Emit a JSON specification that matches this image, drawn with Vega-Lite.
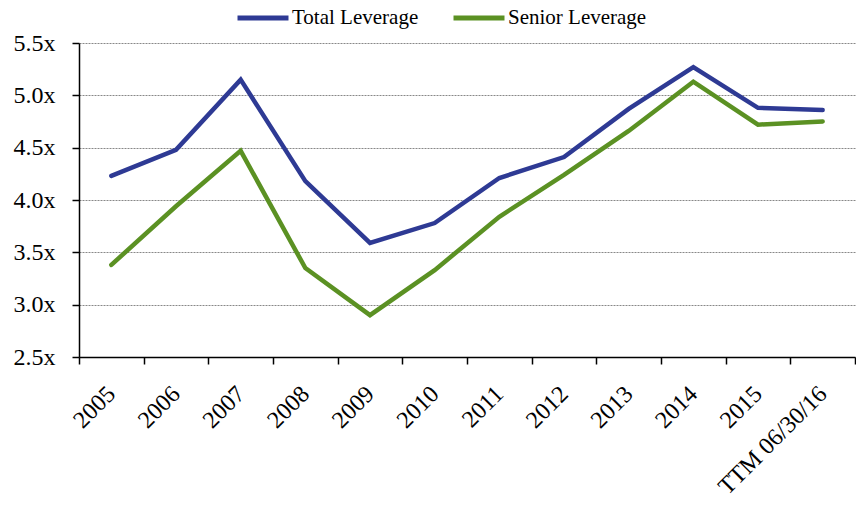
{
  "$schema": "https://vega.github.io/schema/vega-lite/v6.json",
  "width": 776,
  "height": 314,
  "autosize": "none",
  "padding": {"left": 79, "top": 43, "right": 1, "bottom": 154},
  "background": "white",
  "config": {
    "font": "Liberation Serif",
    "view": {"stroke": null}
  },
  "data": {
    "values": [
      {"period": "2005", "series": "Total Leverage", "value": 4.23},
      {"period": "2006", "series": "Total Leverage", "value": 4.48},
      {"period": "2007", "series": "Total Leverage", "value": 5.15},
      {"period": "2008", "series": "Total Leverage", "value": 4.18},
      {"period": "2009", "series": "Total Leverage", "value": 3.59},
      {"period": "2010", "series": "Total Leverage", "value": 3.78},
      {"period": "2011", "series": "Total Leverage", "value": 4.21},
      {"period": "2012", "series": "Total Leverage", "value": 4.41},
      {"period": "2013", "series": "Total Leverage", "value": 4.87},
      {"period": "2014", "series": "Total Leverage", "value": 5.27},
      {"period": "2015", "series": "Total Leverage", "value": 4.88},
      {"period": "TTM 06/30/16", "series": "Total Leverage", "value": 4.86},
      {"period": "2005", "series": "Senior Leverage", "value": 3.38},
      {"period": "2006", "series": "Senior Leverage", "value": 3.94},
      {"period": "2007", "series": "Senior Leverage", "value": 4.47},
      {"period": "2008", "series": "Senior Leverage", "value": 3.35},
      {"period": "2009", "series": "Senior Leverage", "value": 2.90},
      {"period": "2010", "series": "Senior Leverage", "value": 3.33},
      {"period": "2011", "series": "Senior Leverage", "value": 3.84},
      {"period": "2012", "series": "Senior Leverage", "value": 4.24},
      {"period": "2013", "series": "Senior Leverage", "value": 4.66},
      {"period": "2014", "series": "Senior Leverage", "value": 5.13},
      {"period": "2015", "series": "Senior Leverage", "value": 4.72},
      {"period": "TTM 06/30/16", "series": "Senior Leverage", "value": 4.75}
    ]
  },
  "mark": {"type": "line", "strokeWidth": 4.5, "strokeCap": "round"},
  "encoding": {
    "x": {
      "field": "period",
      "type": "ordinal",
      "sort": null,
      "scale": {"type": "band", "paddingInner": 0, "paddingOuter": 0},
      "axis": {
        "title": null,
        "labelAngle": -45,
        "labelAlign": "right",
        "labelBaseline": "middle",
        "labelFontSize": 24,
        "labelColor": "black",
        "labelPadding": 26,
        "labelOffset": 0,
        "tickBand": "extent",
        "tickSize": 7,
        "tickColor": "black",
        "tickWidth": 1.5,
        "domainColor": "black",
        "domainWidth": 1.5,
        "grid": false
      }
    },
    "y": {
      "field": "value",
      "type": "quantitative",
      "scale": {"domain": [2.5, 5.5], "nice": false, "zero": false},
      "axis": {
        "title": null,
        "values": [2.5, 3.0, 3.5, 4.0, 4.5, 5.0, 5.5],
        "labelExpr": "format(datum.value, '.1f') + 'x'",
        "labelFontSize": 24,
        "labelColor": "black",
        "labelPadding": 17,
        "tickSize": 7,
        "tickColor": "black",
        "tickWidth": 1.5,
        "domainColor": "black",
        "domainWidth": 1.5,
        "grid": true,
        "gridColor": "#888888",
        "gridDash": [2, 1],
        "gridWidth": 1
      }
    },
    "color": {
      "field": "series",
      "type": "nominal",
      "scale": {
        "domain": ["Total Leverage", "Senior Leverage"],
        "range": ["#2E3A94", "#5B9123"]
      },
      "legend": {
        "title": null,
        "orient": "none",
        "direction": "horizontal",
        "legendX": 156,
        "legendY": -53,
        "symbolType": "stroke",
        "symbolSize": 2600,
        "symbolStrokeWidth": 5,
        "labelFontSize": 21,
        "labelColor": "black",
        "labelOffset": 1,
        "columnPadding": 24
      }
    }
  }
}
